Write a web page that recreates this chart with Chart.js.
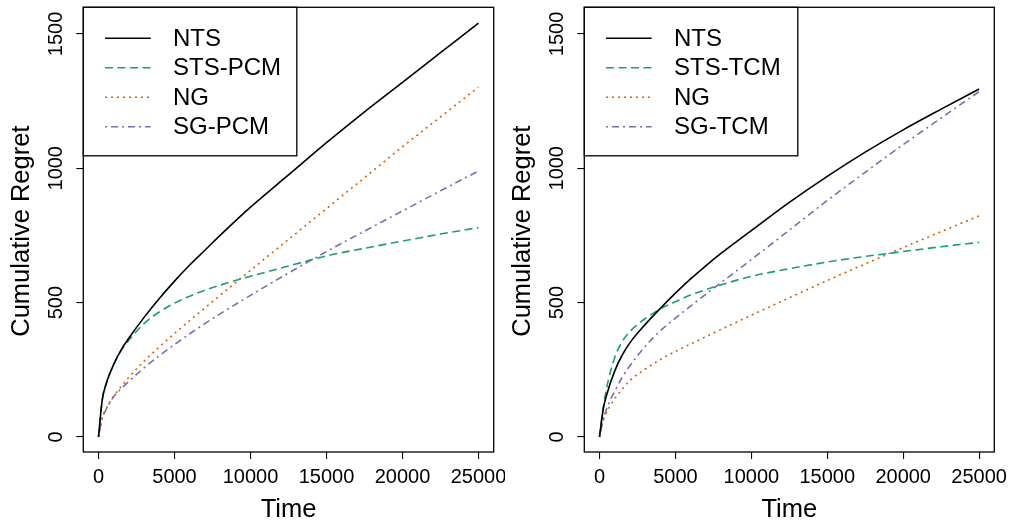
<!DOCTYPE html>
<html>
<head>
<meta charset="utf-8">
<script src="https://cdn.jsdelivr.net/npm/chart.js@4.4.0/dist/chart.umd.min.js"></script>
<style>
  html, body { margin: 0; padding: 0; background: #fff; }
  #wrap { position: relative; width: 1010px; height: 521px; overflow: hidden; }
  canvas { position: absolute; top: 0; }
</style>
</head>
<body>
<div id="wrap">
  <canvas id="c1" width="505" height="521" style="left:0px"></canvas>
  <canvas id="c2" width="505" height="521" style="left:505px"></canvas>
</div>
<script>
// ---- data ----
const timeSteps = [0,250,500,1000,1500,2000,3000,4000,5000,6000,7000,8000,10000,12500,15000,17500,20000,22500,25000];

// left panel
const leftNTS   = [0,140,197,270,325,368,445,515,580,640,695,750,855,975,1095,1210,1320,1430,1540];
const leftSTS   = [0,140,197,270,322,360,422,465,498,524,546,565,598,636,674,702,729,755,779];
const leftNG    = [0,72,104,152,188,222,282,335,385,433,480,527,620,735,850,965,1080,1191,1302];
const leftSG    = [0,70,102,150,180,207,257,302,344,384,422,458,527,610,690,766,841,916,990];

// right panel
const rightNTS  = [0,105,162,245,305,350,418,478,535,588,637,683,768,873,970,1060,1143,1220,1295];
const rightSTS  = [0,110,190,295,355,392,440,476,503,528,548,566,598,626,651,672,690,708,724];
const rightNG   = [0,65,95,142,178,210,252,288,318,346,373,400,453,518,582,644,705,764,823];
const rightSG   = [0,62,110,170,222,265,336,395,442,487,531,574,660,770,880,985,1088,1187,1285];

const leftLabels  = ["NTS", "STS-PCM", "NG", "SG-PCM"];
const rightLabels = ["NTS", "STS-TCM", "NG", "SG-TCM"];

const xTicks = [0, 5000, 10000, 15000, 20000, 25000];
const yTicks = [0, 500, 1000, 1500];
const xTitle = "Time";
const yTitle = "Cumulative Regret";

// ---- styles ----
const colors = ["#000000", "#1B9E77", "#D95F02", "#7570B3"];
const dashes = [[], [8, 4.5], [2, 4], [2, 4, 7, 4]];
const FONT = "'Liberation Sans', Arial, Helvetica, sans-serif";

function toXY(ys) { return timeSteps.map((t, i) => ({ x: t, y: ys[i] })); }

function makeChart(canvasId, series, labels, yAxisWidth, padRight) {
  const datasets = series.map((s, i) => ({
    label: labels[i],
    data: toXY(s),
    borderColor: colors[i],
    borderWidth: 1.6,
    borderDash: dashes[i],
    borderCapStyle: 'butt',
    pointRadius: 0,
    fill: false,
    cubicInterpolationMode: 'monotone'
  }));

  const overlay = {
    id: 'overlay',
    afterDraw(chart) {
      const ctx = chart.ctx;
      const a = chart.chartArea;
      const xs = chart.scales.x, ys = chart.scales.y;
      ctx.save();
      // box
      ctx.strokeStyle = '#000';
      ctx.lineWidth = 1.3;
      ctx.setLineDash([]);
      ctx.strokeRect(a.left, a.top, a.right - a.left, a.bottom - a.top);

      // tick labels
      ctx.fillStyle = '#000';
      ctx.font = '20px ' + FONT;
      ctx.textAlign = 'center';
      ctx.textBaseline = 'middle';
      xTicks.forEach(v => ctx.fillText(String(v), xs.getPixelForValue(v), 477.5));
      yTicks.forEach(v => {
        ctx.save();
        ctx.translate(a.left - 26.5, ys.getPixelForValue(v));
        ctx.rotate(-Math.PI / 2);
        ctx.fillText(String(v), 0, 0);
        ctx.restore();
      });

      // axis titles
      ctx.font = '25.5px ' + FONT;
      ctx.fillText(xTitle, (a.left + a.right) / 2, 510);
      ctx.save();
      ctx.translate(a.left - 61.3, (a.top + a.bottom) / 2 + 1.5);
      ctx.rotate(-Math.PI / 2);
      ctx.fillText(yTitle, 0, 0);
      ctx.restore();

      // legend
      const lx = a.left, ly = a.top, lw = 213.5, lh = 148.5;
      ctx.fillStyle = '#fff';
      ctx.fillRect(lx, ly, lw, lh);
      ctx.strokeStyle = '#000';
      ctx.lineWidth = 1.3;
      ctx.strokeRect(lx, ly, lw, lh);
      ctx.font = '24px ' + FONT;
      ctx.textAlign = 'left';
      ctx.fillStyle = '#000';
      labels.forEach((lab, i) => {
        const yy = ly + 31 + i * 29.5;
        ctx.beginPath();
        ctx.strokeStyle = colors[i];
        ctx.lineWidth = 1.6;
        ctx.setLineDash(dashes[i]);
        ctx.moveTo(lx + 21.7, yy);
        ctx.lineTo(lx + 67.4, yy);
        ctx.stroke();
        ctx.setLineDash([]);
        ctx.fillText(lab, lx + 89.7, yy + 1);
      });
      ctx.restore();
    }
  };

  return new Chart(document.getElementById(canvasId), {
    type: 'line',
    data: { datasets },
    options: {
      responsive: false,
      animation: false,
      devicePixelRatio: 1,
      layout: { padding: { left: 0, right: padRight, top: 7.3, bottom: 0 } },
      plugins: { legend: { display: false }, tooltip: { enabled: false } },
      scales: {
        x: {
          type: 'linear',
          min: -1000, max: 26000,
          afterBuildTicks: s => { s.ticks = xTicks.map(v => ({ value: v })); },
          afterFit: s => { s.height = 69; },
          ticks: { display: false },
          grid: { drawOnChartArea: false, drawTicks: true, tickLength: 7, color: '#000', lineWidth: 1.1 },
          border: { display: false }
        },
        y: {
          type: 'linear',
          min: -56, max: 1599,
          afterBuildTicks: s => { s.ticks = yTicks.map(v => ({ value: v })); },
          afterFit: s => { s.width = yAxisWidth; },
          ticks: { display: false },
          grid: { drawOnChartArea: false, drawTicks: true, tickLength: 7, color: '#000', lineWidth: 1.1 },
          border: { display: false }
        }
      }
    },
    plugins: [overlay]
  });
}

makeChart('c1', [leftNTS, leftSTS, leftNG, leftSG], leftLabels, 83.3, 11.3);
makeChart('c2', [rightNTS, rightSTS, rightNG, rightSG], rightLabels, 79.3, 15.7);
</script>
</body>
</html>
